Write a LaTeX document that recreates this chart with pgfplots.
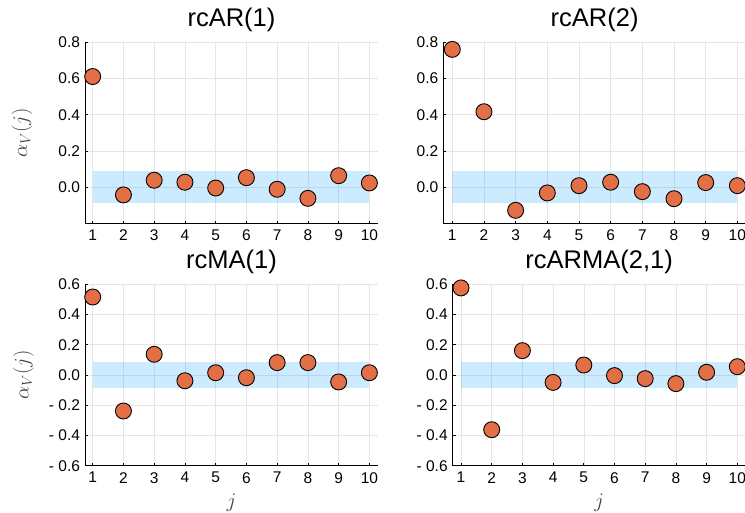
\documentclass[border=0pt]{standalone}
\usepackage[no-math]{fontspec}
\setmainfont{Liberation Sans}
\usepackage{pgfplots}
\pgfplotsset{compat=1.18}

\definecolor{dot}{HTML}{E26F46}
\definecolor{ci}{HTML}{009AFA}

\pgfplotsset{
  acf/.style={
    scale only axis,
    axis lines*=left,
    axis line style={line width=0.9pt, black},
    tick align=inside,
    major tick length=3pt,
    tick style={black, line width=0.7pt},
    grid=major,
    grid style={black!10, line width=0.6pt},
    xtick={1,2,3,4,5,6,7,8,9,10},
    xticklabels={1,2,3,4,5,6,7,8,9,10},
    ticklabel style={font=\fontsize{15.5}{18}\selectfont},
    yticklabel style={xshift=-1.5pt},
    xticklabel style={yshift=-3pt},
    title style={font=\fontsize{25.5}{30}\selectfont, at={(0.5,1)}, anchor=base, yshift=10pt},
    label style={font=\fontsize{22}{26}\selectfont, text=black!75},
    clip=false,
    /pgf/number format/assume math mode=true,
  },
  toprow/.style={ymin=-0.2, ymax=0.8, height=181.25pt,
    ytick={0,0.2,0.4,0.6,0.8}, yticklabels={0.0,0.2,0.4,0.6,0.8}},
  botrow/.style={ymin=-0.6, ymax=0.6, height=181.4pt,
    ytick={-0.6,-0.4,-0.2,0,0.2,0.4,0.6},
    yticklabels={- 0.6,- 0.4,- 0.2,0.0,0.2,0.4,0.6},
    xlabel={$j$},
    xlabel style={at={(axis description cs:0.5,-0.228)}, anchor=base}},
  band/.style={draw=none, fill=ci, fill opacity=0.2, forget plot},
  pts/.style={only marks, mark=*, mark size=8pt,
    mark options={fill=dot, draw=black, line width=0.9pt}},
}

\begin{document}
\begin{tikzpicture}

% rcAR(1)
\begin{axis}[acf, toprow, at={(85pt,-42.3pt)}, anchor=north west,
  width=293pt, xmin=0.75, xmax=10.28, title={rcAR(1)},
  ylabel={$\alpha_V(j)$},
  ylabel style={at={(axis description cs:-0.215,0.5)}, anchor=center}]
\addplot[band] coordinates {(1,-0.0877) (10,-0.0877) (10,0.0877) (1,0.0877)} -- cycle;
\addplot[pts] coordinates {
  (1,0.611) (2,-0.042) (3,0.039) (4,0.028) (5,-0.004)
  (6,0.053) (7,-0.011) (8,-0.061) (9,0.064) (10,0.024)
};
\end{axis}

% rcAR(2)
\begin{axis}[acf, toprow, at={(443.3pt,-42.3pt)}, anchor=north west,
  width=302.6pt, xmin=0.716, xmax=10.27, title={rcAR(2)}]
\addplot[band] coordinates {(1,-0.0877) (10,-0.0877) (10,0.0877) (1,0.0877)} -- cycle;
\addplot[pts] coordinates {
  (1,0.761) (2,0.417) (3,-0.127) (4,-0.031) (5,0.009)
  (6,0.028) (7,-0.024) (8,-0.063) (9,0.026) (10,0.009)
};
\end{axis}

% rcMA(1)
\begin{axis}[acf, botrow, at={(85pt,-284.3pt)}, anchor=north west,
  width=293pt, xmin=0.75, xmax=10.28, title={rcMA(1)},
  ylabel={$\alpha_V(j)$},
  ylabel style={at={(axis description cs:-0.21,0.5)}, anchor=center}]
\addplot[band] coordinates {(1,-0.0877) (10,-0.0877) (10,0.0877) (1,0.0877)} -- cycle;
\addplot[pts] coordinates {
  (1,0.516) (2,-0.238) (3,0.137) (4,-0.038) (5,0.015)
  (6,-0.018) (7,0.082) (8,0.082) (9,-0.046) (10,0.015)
};
\end{axis}

% rcARMA(2,1)
\begin{axis}[acf, botrow, at={(452.7pt,-284.3pt)}, anchor=north west,
  width=292.9pt, xmin=0.73, xmax=10.27, title={rcARMA(2,1)}]
\addplot[band] coordinates {(1,-0.0877) (10,-0.0877) (10,0.0877) (1,0.0877)} -- cycle;
\addplot[pts] coordinates {
  (1,0.576) (2,-0.362) (3,0.161) (4,-0.049) (5,0.066)
  (6,-0.004) (7,-0.024) (8,-0.057) (9,0.018) (10,0.055)
};
\end{axis}

\pgfresetboundingbox
\path[use as bounding box] (0pt,0pt) rectangle (745pt,-513pt);
\end{tikzpicture}
\end{document}
